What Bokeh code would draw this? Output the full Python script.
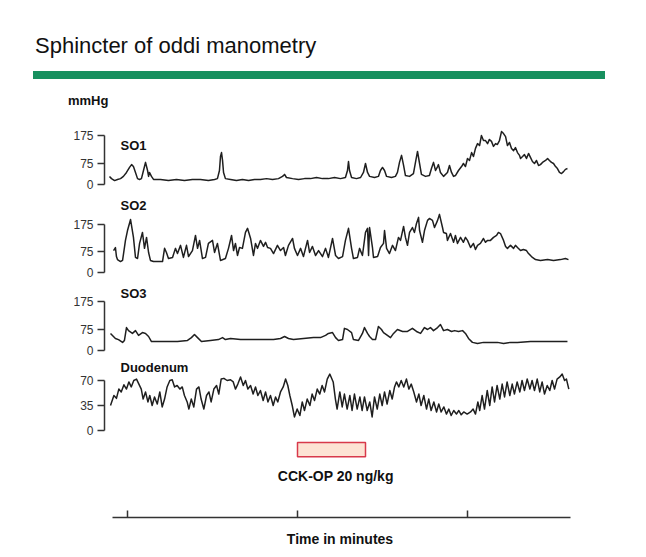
from bokeh.plotting import figure
from bokeh.models import Range1d, LinearAxis, FixedTicker, Label, Div
from bokeh.layouts import column
from bokeh.embed import file_html
from bokeh.resources import INLINE

# ---------------- data (time in minutes, pressure in mmHg) ----------------
TITLE = "Sphincter of oddi manometry"
UNIT = "mmHg"
SO_TICKS = [0, 75, 175]
DUO_TICKS = [0, 35, 70]
TIME_TICKS = [0, 10, 20]
CCK_START, CCK_END = 10.0, 14.0
CCK_TEXT = "CCK-OP 20 ng/kg"
TIME_LABEL = "Time in minutes"

so1_t = [-1.06, -0.94, -0.76, -0.59, -0.41, -0.24, -0.06, 0.12, 0.24, 0.35,
         0.47, 0.59, 0.71, 0.82, 0.94, 1.06, 1.18, 1.24, 1.29, 1.41,
         1.53, 1.94, 2.41, 2.88, 3.35, 3.82, 4.29, 4.76, 5.12, 5.29,
         5.41, 5.47, 5.53, 5.59, 5.65, 5.76, 6.06, 6.41, 6.76, 7.12,
         7.47, 7.82, 8.18, 8.53, 8.88, 9.12, 9.24, 9.35, 9.71, 10.06,
         10.41, 10.76, 11.12, 11.47, 11.82, 12.18, 12.53, 12.82, 12.94, 13.0,
         13.06, 13.18, 13.47, 13.71, 13.88, 14.0, 14.12, 14.24, 14.53, 14.76,
         14.88, 15.0, 15.12, 15.24, 15.53, 15.76, 15.88, 16.0, 16.12, 16.24,
         16.35, 16.59, 16.82, 16.94, 17.06, 17.18, 17.29, 17.53, 17.76, 17.88,
         18.0, 18.12, 18.24, 18.29, 18.41, 18.59, 18.82, 18.94, 19.06, 19.18,
         19.29, 19.47, 19.65, 19.76, 19.88, 20.0, 20.12, 20.24, 20.35, 20.47,
         20.59, 20.71, 20.82, 20.94, 21.06, 21.18, 21.29, 21.41, 21.53, 21.65,
         21.76, 21.88, 22.0, 22.12, 22.24, 22.35, 22.47, 22.59, 22.71, 22.82,
         22.94, 23.06, 23.12, 23.24, 23.35, 23.47, 23.59, 23.71, 23.82, 23.94,
         24.06, 24.18, 24.29, 24.41, 24.59, 24.71, 24.82, 24.94, 25.06, 25.18,
         25.29, 25.41, 25.53, 25.65, 25.76, 25.88]
so1_p = [29, 21, 14, 18, 21, 29, 43, 61, 71, 64,
         43, 21, 18, 21, 50, 79, 50, 29, 43, 29,
         18, 18, 14, 18, 14, 18, 18, 14, 18, 21,
         50, 100, 114, 86, 43, 21, 18, 14, 18, 14,
         18, 18, 21, 18, 21, 29, 36, 25, 21, 18,
         21, 21, 25, 21, 21, 25, 21, 25, 50, 82,
         50, 25, 21, 25, 43, 75, 43, 29, 25, 29,
         50, 61, 50, 29, 25, 29, 43, 79, 104, 68,
         32, 29, 39, 79, 118, 75, 36, 29, 32, 57,
         79, 50, 64, 71, 43, 29, 43, 68, 43, 29,
         32, 50, 64, 75, 64, 93, 86, 114, 100, 129,
         146, 139, 175, 157, 157, 146, 161, 154, 136, 146,
         143, 157, 189, 182, 171, 139, 150, 129, 121, 132,
         114, 104, 93, 100, 107, 93, 111, 96, 82, 75,
         86, 68, 71, 79, 86, 93, 86, 79, 75, 64,
         57, 43, 39, 46, 54, 57]

so2_t = [-0.82, -0.71, -0.65, -0.59, -0.41, -0.29, -0.12, 0.0, 0.18, 0.35,
         0.47, 0.59, 0.71, 0.88, 1.0, 1.12, 1.24, 1.35, 1.53, 1.82,
         2.06, 2.18, 2.29, 2.41, 2.65, 2.82, 2.94, 3.12, 3.29, 3.47,
         3.59, 3.82, 4.0, 4.12, 4.24, 4.41, 4.59, 4.76, 5.0, 5.12,
         5.29, 5.47, 5.76, 5.94, 6.12, 6.24, 6.35, 6.47, 6.59, 6.76,
         6.94, 7.06, 7.24, 7.41, 7.53, 7.65, 7.82, 8.0, 8.12, 8.24,
         8.41, 8.59, 8.82, 9.0, 9.18, 9.29, 9.47, 9.71, 9.82, 10.0,
         10.18, 10.35, 10.59, 10.71, 10.88, 11.06, 11.24, 11.47, 11.65, 11.82,
         12.06, 12.24, 12.41, 12.65, 12.82, 13.0, 13.18, 13.29, 13.53, 13.65,
         13.82, 14.0, 14.12, 14.18, 14.24, 14.41, 14.47, 14.71, 14.88, 15.06,
         15.12, 15.24, 15.41, 15.59, 15.76, 15.94, 16.06, 16.24, 16.35, 16.47,
         16.59, 16.76, 16.88, 17.0, 17.12, 17.18, 17.35, 17.47, 17.65, 17.76,
         17.94, 18.06, 18.24, 18.35, 18.53, 18.59, 18.76, 18.82, 19.0, 19.18,
         19.29, 19.41, 19.59, 19.76, 19.88, 20.0, 20.18, 20.35, 20.47, 20.59,
         20.76, 20.94, 21.06, 21.18, 21.35, 21.53, 21.71, 21.82, 21.94, 22.12,
         22.24, 22.35, 22.53, 22.71, 22.82, 22.94, 23.12, 23.29, 23.47, 23.59,
         23.82, 24.0, 24.29, 24.71, 25.06, 25.47, 25.76, 25.94]
so2_p = [80, 91, 58, 47, 40, 44, 117, 153, 193, 128,
         55, 51, 106, 146, 88, 128, 73, 44, 40, 40,
         40, 88, 73, 51, 55, 88, 69, 99, 55, 99,
         58, 80, 135, 88, 117, 51, 55, 106, 117, 73,
         106, 44, 51, 88, 135, 80, 106, 62, 91, 88,
         146, 161, 124, 62, 106, 88, 117, 95, 110, 91,
         88, 69, 99, 80, 91, 62, 99, 124, 88, 62,
         88, 58, 117, 73, 95, 62, 80, 58, 88, 55,
         124, 62, 51, 58, 117, 161, 88, 51, 55, 88,
         62, 146, 161, 62, 164, 91, 55, 58, 91, 106,
         153, 88, 69, 99, 80, 128, 117, 168, 128, 99,
         146, 164, 146, 179, 201, 153, 110, 153, 190, 197,
         190, 164, 190, 212, 164, 146, 142, 117, 142, 110,
         135, 106, 128, 110, 128, 117, 91, 106, 84, 99,
         106, 124, 110, 117, 117, 128, 135, 146, 142, 117,
         95, 88, 99, 88, 99, 91, 80, 84, 80, 69,
         55, 47, 44, 47, 44, 47, 51, 47]

so3_t = [-1.0, -0.71, -0.53, -0.29, -0.18, -0.06, 0.06, 0.29, 0.47, 0.65,
         0.88, 1.06, 1.24, 1.41, 1.76, 2.35, 2.94, 3.53, 3.76, 3.94,
         4.12, 4.35, 4.88, 5.35, 5.59, 5.76, 6.06, 6.65, 7.24, 7.82,
         8.59, 9.0, 9.24, 9.47, 9.76, 10.35, 10.94, 11.35, 11.65, 11.82,
         12.06, 12.24, 12.41, 12.65, 12.76, 12.94, 13.18, 13.29, 13.59, 13.82,
         13.94, 14.12, 14.24, 14.41, 14.59, 14.76, 14.94, 15.06, 15.29, 15.47,
         15.65, 15.88, 16.18, 16.47, 16.76, 17.0, 17.24, 17.47, 17.65, 17.82,
         18.0, 18.24, 18.41, 18.59, 18.82, 19.06, 19.24, 19.47, 19.71, 19.88,
         20.06, 20.29, 20.59, 20.94, 21.35, 21.76, 22.12, 22.53, 22.94, 23.71,
         24.71, 25.88]
so3_p = [61, 43, 39, 29, 36, 82, 71, 61, 71, 54,
         64, 61, 50, 32, 32, 32, 32, 36, 46, 57,
         46, 32, 36, 39, 46, 39, 43, 39, 39, 39,
         39, 43, 50, 43, 39, 43, 46, 46, 54, 61,
         64, 46, 36, 39, 79, 75, 64, 39, 36, 61,
         82, 61, 50, 39, 39, 86, 75, 64, 54, 46,
         61, 75, 68, 68, 79, 68, 61, 82, 75, 82,
         71, 82, 93, 71, 75, 68, 71, 68, 71, 61,
         43, 29, 25, 29, 29, 29, 25, 29, 29, 32,
         32, 32]

duo_t = [-1.0, -0.80, -0.65, -0.51, -0.37, -0.21, -0.06, 0.08, 0.22, 0.37,
         0.53, 0.67, 0.81, 0.92, 1.06, 1.20, 1.31, 1.45, 1.59, 1.75,
         1.90, 2.04, 2.18, 2.33, 2.49, 2.63, 2.77, 2.92, 3.08, 3.22,
         3.35, 3.51, 3.61, 3.75, 3.90, 4.06, 4.20, 4.33, 4.49, 4.65,
         4.79, 4.92, 5.08, 5.24, 5.37, 5.51, 5.67, 5.86, 6.06, 6.22,
         6.35, 6.49, 6.65, 6.81, 6.94, 7.08, 7.24, 7.39, 7.53, 7.67,
         7.82, 7.98, 8.12, 8.26, 8.41, 8.57, 8.71, 8.84, 9.00, 9.16,
         9.30, 9.43, 9.55, 9.69, 9.82, 9.98, 10.14, 10.28, 10.41, 10.57,
         10.73, 10.86, 11.0, 11.16, 11.31, 11.45, 11.59, 11.75, 11.90,
         12.10, 12.23, 12.33, 12.49, 12.63, 12.76, 12.92, 13.08, 13.21, 13.35,
         13.51, 13.67, 13.80, 13.94, 14.10, 14.25, 14.39, 14.53, 14.69, 14.84,
         14.98, 15.12, 15.27, 15.43, 15.57, 15.71, 15.82, 15.96, 16.10, 16.25,
         16.41, 16.55, 16.69, 16.84, 17.0, 17.14, 17.27, 17.43, 17.59, 17.72,
         17.86, 18.02, 18.18, 18.31, 18.45, 18.61, 18.76, 18.90, 19.04, 19.19,
         19.35, 19.49, 19.63, 19.78, 19.98, 20.18, 20.33, 20.47, 20.61, 20.72,
         20.86, 21.0, 21.16, 21.31, 21.45, 21.59, 21.74, 21.90, 22.04, 22.18,
         22.33, 22.49, 22.63, 22.76, 22.92, 23.08, 23.21, 23.35, 23.51, 23.67,
         23.80, 23.94, 24.10, 24.25, 24.39, 24.53, 24.69, 24.84, 24.98, 25.12,
         25.27, 25.43, 25.57, 25.71, 25.82, 25.96]
duo_p = [35, 49, 45, 58, 54, 64, 58, 68, 61, 70,
         72, 65, 58, 44, 54, 40, 49, 35, 47, 37,
         54, 33, 44, 61, 70, 71, 61, 63, 58, 61,
         49, 40, 30, 44, 33, 58, 61, 44, 30, 49,
         54, 40, 58, 63, 51, 72, 73, 70, 71, 68,
         58, 65, 75, 63, 70, 58, 63, 51, 61, 49,
         56, 42, 54, 40, 49, 35, 47, 40, 54, 61,
         72, 63, 49, 35, 19, 30, 21, 40, 28, 44,
         35, 51, 42, 58, 51, 63, 54, 72, 79,
         68, 44, 30, 54, 33, 51, 30, 49, 28, 51,
         30, 47, 28, 47, 28, 40, 19, 47, 30, 51,
         35, 54, 37, 56, 44, 61, 68, 61, 70, 61,
         72, 58, 65, 54, 40, 51, 35, 49, 30, 44,
         28, 40, 26, 37, 26, 33, 23, 30, 21, 28,
         23, 28, 22, 26, 23, 26, 30, 23, 40, 28,
         49, 30, 56, 35, 61, 40, 63, 44, 65, 47,
         68, 49, 65, 51, 68, 54, 70, 56, 72, 58,
         70, 56, 72, 54, 68, 51, 63, 56, 70, 58,
         72, 75, 79, 70, 72, 58]

# ---------------- layout / style ----------------
W = 630
FRAME_L, FRAME_R = 104, 575         # frame edges (px)
T0_PX, PX_PER_MIN = 127.0, 17.0     # where t=0 sits, and scale
AXIS_SPAN = (-0.88, 26.06)          # drawn extent of the time axis
AX = "#333333"
TRACE = "#1f1f1f"
GREEN = "#17905f"
FONT = "Liberation Sans"

xr = Range1d((FRAME_L - T0_PX) / PX_PER_MIN, (FRAME_R - T0_PX) / PX_PER_MIN)


def base(h, xrange, yrange, **kw):
    p = figure(width=W, height=h, x_range=xrange, y_range=yrange, title=None,
               x_axis_type=None, y_axis_type=None, output_backend="svg",
               toolbar_location=None, **kw)
    p.outline_line_color = None
    p.background_fill_color = "white"
    p.border_fill_color = "white"
    return p


# header (title, green rule, unit)
head_html = (
    '<div style="position:relative;width:%dpx;height:112px;">'
    '<div style="position:absolute;left:35px;top:35px;font-family:\'Liberation Sans\';'
    'font-size:22px;line-height:22px;color:#111;white-space:nowrap;">%s</div>'
    '<div style="position:absolute;left:33px;top:71px;width:572px;height:8px;'
    'background:%s;"></div>'
    '<div style="position:absolute;left:68px;top:94px;font-family:\'Liberation Sans\';'
    'font-weight:bold;font-size:13px;line-height:13px;color:#111;">%s</div>'
    '</div>' % (W, TITLE, GREEN, UNIT)
)
head = Div(text=head_html, width=W, height=112, margin=0)


def panel(h, zero_px, top_px, ticks, t, v, name, label_px):
    top_val = ticks[-1]
    u = top_val / (zero_px - top_px)
    p = base(h, xr, Range1d(-(h - zero_px) * u, zero_px * u),
             min_border_left=FRAME_L, min_border_right=W - FRAME_R,
             min_border_top=0, min_border_bottom=0)
    ax = LinearAxis(ticker=FixedTicker(ticks=ticks, minor_ticks=[]),
                    bounds=(0, top_val),
                    axis_line_color=AX, axis_line_width=1.5,
                    major_tick_line_color=AX, major_tick_line_width=1.5,
                    major_tick_out=7, major_tick_in=0,
                    minor_tick_out=0, minor_tick_in=0,
                    major_label_standoff=4,
                    major_label_text_font=FONT,
                    major_label_text_font_size="12px",
                    major_label_text_color="#333333")
    p.add_layout(ax, "left")
    p.line(t, v, line_color=TRACE, line_width=1.5, line_join="round")
    p.add_layout(Label(x=(120 - T0_PX) / PX_PER_MIN, y=(zero_px - label_px) * u,
                       text=name, text_font=FONT, text_font_style="bold",
                       text_font_size="13px", text_color="#111111",
                       text_baseline="middle"))
    return p


p1 = panel(82, 72, 23, SO_TICKS, so1_t, so1_p, "SO1", 33)
p2 = panel(88, 78, 30, SO_TICKS, so2_t, so2_p, "SO2", 11)
p3 = panel(76, 68, 19, SO_TICKS, so3_t, so3_p, "SO3", 11)
p4 = panel(82, 72, 22, DUO_TICKS, duo_t, duo_p, "Duodenum", 9)

# footer with CCK marker and time axis
foot = base(109, xr, Range1d(80, 0), min_border_left=FRAME_L,
            min_border_right=W - FRAME_R, min_border_top=0, min_border_bottom=29)
foot.quad(left=[CCK_START], right=[CCK_END], top=[2], bottom=[17],
          fill_color="#fde3d4", line_color="#d8394b", line_width=1.5)
foot.add_layout(Label(x=(CCK_START + CCK_END) / 2 + 0.25, y=37, text=CCK_TEXT,
                      text_font=FONT, text_font_style="bold", text_font_size="14px",
                      text_color="#111111", text_align="center",
                      text_baseline="middle"))
tax = LinearAxis(ticker=FixedTicker(ticks=[], minor_ticks=TIME_TICKS),
                 bounds=AXIS_SPAN,
                 axis_line_color=AX, axis_line_width=1.5,
                 major_tick_in=0, major_tick_out=0,
                 minor_tick_line_color=AX, minor_tick_line_width=1.5,
                 minor_tick_in=7, minor_tick_out=0,
                 major_label_standoff=0,
                 axis_label=TIME_LABEL, axis_label_standoff=13,
                 axis_label_text_font=FONT, axis_label_text_font_style="bold",
                 axis_label_text_font_size="14px",
                 axis_label_text_color="#111111")
foot.add_layout(tax, "below")

layout = column(head, p1, p2, p3, p4, foot, spacing=0)
open("out.html", "w").write(file_html(layout, INLINE))
